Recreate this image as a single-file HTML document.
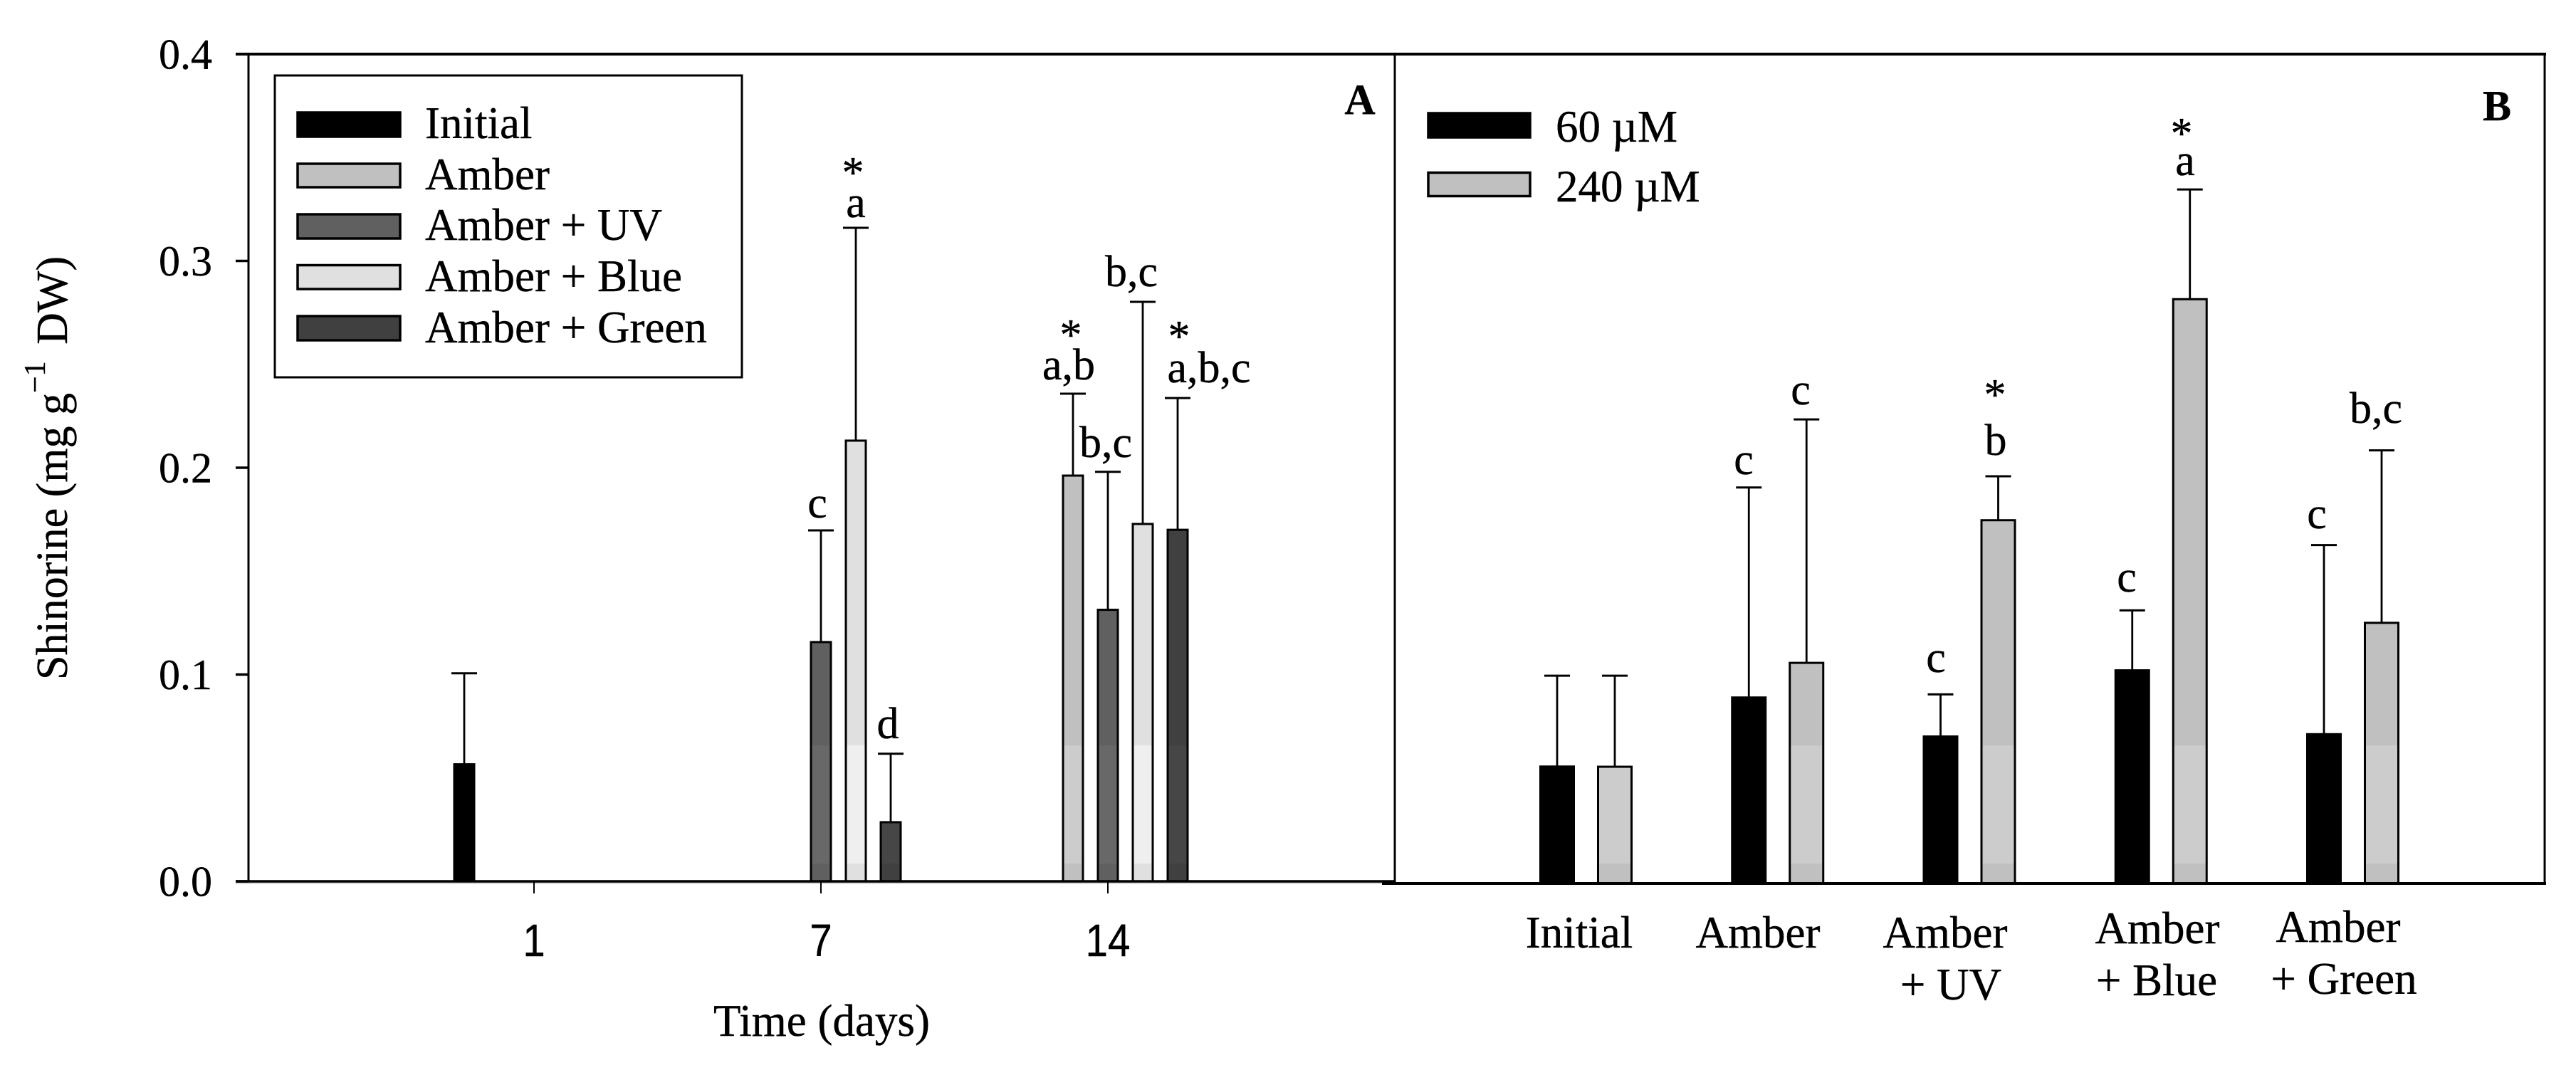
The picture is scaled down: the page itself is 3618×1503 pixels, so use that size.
<!DOCTYPE html>
<html lang="en">
<head>
<meta charset="utf-8">
<title>Shinorine content chart</title>
<style>
  html, body { margin: 0; padding: 0; background: #fff; }
  svg { display: block; }
  text { font-family: "Liberation Serif", serif; fill: #000; stroke: #000; stroke-width: 0.4px; }
  .sans { font-family: "Liberation Sans", sans-serif; }
  .f60 { font-size: 60px; }
  .f62 { font-size: 62px; }
  .f63 { font-size: 63px; }
  .mid { text-anchor: middle; }
  .bold { font-weight: bold; }
</style>
</head>
<body>
<svg id="chart" xmlns="http://www.w3.org/2000/svg" width="3618" height="1503" viewBox="0 0 3618 1503">
  <defs>
    <linearGradient id="fill-amber" gradientUnits="userSpaceOnUse" x1="0" y1="0" x2="0" y2="1503">
      <stop offset="0.6966" stop-color="#c0c0c0"/><stop offset="0.6966" stop-color="#cccccc"/>
      <stop offset="0.8070" stop-color="#cccccc"/><stop offset="0.8070" stop-color="#c0c0c0"/>
    </linearGradient>
    <linearGradient id="fill-uv" gradientUnits="userSpaceOnUse" x1="0" y1="0" x2="0" y2="1503">
      <stop offset="0.6966" stop-color="#606060"/><stop offset="0.6966" stop-color="#686868"/>
      <stop offset="0.8070" stop-color="#686868"/><stop offset="0.8070" stop-color="#606060"/>
    </linearGradient>
    <linearGradient id="fill-blue" gradientUnits="userSpaceOnUse" x1="0" y1="0" x2="0" y2="1503">
      <stop offset="0.6966" stop-color="#e0e0e0"/><stop offset="0.6966" stop-color="#efefef"/>
      <stop offset="0.8070" stop-color="#efefef"/><stop offset="0.8070" stop-color="#e0e0e0"/>
    </linearGradient>
    <linearGradient id="fill-green" gradientUnits="userSpaceOnUse" x1="0" y1="0" x2="0" y2="1503">
      <stop offset="0.6966" stop-color="#404040"/><stop offset="0.6966" stop-color="#464646"/>
      <stop offset="0.8070" stop-color="#464646"/><stop offset="0.8070" stop-color="#404040"/>
    </linearGradient>
  </defs>

  <g id="marks"></g>

  <g id="frame" stroke="#000" fill="none">
    <line x1="331" y1="1240.5" x2="1958" y2="1240.5" stroke="#cccccc" stroke-width="2"/>
    <line x1="331" y1="76" x2="3576" y2="76" stroke-width="4"/>
    <line x1="349" y1="76" x2="349" y2="1238" stroke-width="3"/>
    <line x1="1959" y1="76" x2="1959" y2="1241" stroke-width="3"/>
    <line x1="3574" y1="78" x2="3574" y2="1243" stroke-width="3"/>
    <line x1="331" y1="1238" x2="1958" y2="1238" stroke-width="3.5"/>
    <line x1="1941" y1="1241" x2="3576" y2="1241" stroke-width="4"/>
  </g>

  <g id="y-axis"></g>
  <g id="x-axis"></g>

  <text class="f62" transform="translate(94 955) rotate(-90)">Shinorine (mg g<tspan font-size="42" dy="-31">&#8722;1</tspan><tspan dy="31" dx="8"> DW)</tspan></text>
  <text class="f63" x="1002" y="1455">Time (days)</text>

  <g>
    <rect x="386" y="106" width="656" height="424" fill="#fff" stroke="#000" stroke-width="3"/>
    <rect x="418" y="158" width="144" height="34" fill="#000" stroke="#000" stroke-width="3.5"/>
    <text class="f63" x="597" y="194">Initial</text>
    <rect x="418" y="230" width="144" height="33" fill="#c0c0c0" stroke="#000" stroke-width="3.5"/>
    <text class="f63" x="597" y="266">Amber</text>
    <rect x="418" y="301" width="144" height="34" fill="#606060" stroke="#000" stroke-width="3.5"/>
    <text class="f63" x="597" y="337">Amber + UV</text>
    <rect x="418" y="372.5" width="144" height="33.5" fill="#e0e0e0" stroke="#000" stroke-width="3.5"/>
    <text class="f63" x="597" y="409">Amber + Blue</text>
    <rect x="418" y="444" width="144" height="34" fill="#404040" stroke="#000" stroke-width="3.5"/>
    <text class="f63" x="597" y="481">Amber + Green</text>
  </g>

  <g>
    <rect x="2006" y="159" width="143" height="34" fill="#000" stroke="#000" stroke-width="3.5"/>
    <text class="f63" x="2185" y="199">60 &#181;M</text>
    <rect x="2006" y="242.5" width="143" height="33" fill="#c0c0c0" stroke="#000" stroke-width="3.5"/>
    <text class="f63" x="2185" y="283">240 &#181;M</text>
  </g>

  <text class="f60 mid bold" x="1910" y="160">A</text>
  <text class="f60 mid bold" x="3507" y="169">B</text>

  <g class="f62 mid">
    <text x="1198" y="263">*</text>
    <text x="1202" y="305">a</text>
    <text x="1148" y="727">c</text>
    <text x="1247" y="1037">d</text>
    <text x="1504" y="491">*</text>
    <text x="1501" y="533">a,b</text>
    <text x="1553" y="642">b,c</text>
    <text x="1589" y="402">b,c</text>
    <text x="1656" y="493">*</text>
    <text x="1698" y="537">a,b,c</text>
  </g>

  <g class="f62 mid">
    <text x="2449" y="666">c</text>
    <text x="2529" y="568">c</text>
    <text x="2719" y="944">c</text>
    <text x="2802" y="575">*</text>
    <text x="2803" y="639">b</text>
    <text x="2987" y="831">c</text>
    <text x="3064" y="208">*</text>
    <text x="3069" y="246">a</text>
    <text x="3254" y="742">c</text>
    <text x="3337" y="594">b,c</text>
  </g>

  <g class="f63 mid">
    <text x="2218" y="1331">Initial</text>
    <text x="2469" y="1331">Amber</text>
    <text x="2732" y="1331">Amber</text>
    <text x="2740" y="1404">+ UV</text>
    <text x="3030" y="1325">Amber</text>
    <text x="3029" y="1398">+ Blue</text>
    <text x="3284" y="1323">Amber</text>
    <text x="3292" y="1396">+ Green</text>
  </g>
</svg>

<script>
// Panel A: shinorine by day and light treatment
const dayLabels = ["1", "7", "14"];
const initialMeans = [0.0566, null, null];
const amberMeans = [null, 0, 0.1962];
const uvMeans = [null, 0.1157, 0.1313];
const blueMeans = [null, 0.2131, 0.1728];
const greenMeans = [null, 0.0286, 0.1700];
const initialErrors = [0.0440, null, null];
const amberErrors = [null, 0, 0.0396];
const uvErrors = [null, 0.0540, 0.0667];
const blueErrors = [null, 0.1029, 0.1074];
const greenErrors = [null, 0.0331, 0.0637];

// Panel B: shinorine by light treatment and concentration
const means60 = [0.0564, 0.0897, 0.0709, 0.1028, 0.0720];
const means240 = [0.0563, 0.1064, 0.1752, 0.2818, 0.1257];
const errors60 = [0.0438, 0.1013, 0.0203, 0.0289, 0.0912];
const errors240 = [0.0439, 0.1174, 0.0212, 0.0529, 0.0832];

const yTickLabels = ["0.0", "0.1", "0.2", "0.3", "0.4"];

const NS = "http://www.w3.org/2000/svg";
const marks = document.getElementById("marks");
const yAxisGroup = document.getElementById("y-axis");
const xAxisGroup = document.getElementById("x-axis");

function yA(v) { return 1238 - v * 2905; }
function yB(v) { return 1241 - v * 2912.5; }
function xA(day, slot) { return 750 + 403 * day + (slot - 2) * 49; }
function xB(cat, slot) { return 2187 + 269.25 * cat + 81 * slot; }

function make(tag, attrs, parent) {
  const node = document.createElementNS(NS, tag);
  for (const k in attrs) node.setAttribute(k, attrs[k]);
  parent.appendChild(node);
  return node;
}

function drawBar(x, y, base, w, fill, name) {
  const bar = make("rect", { x: x - w / 2, y: y, width: w, height: base - y, fill: fill, stroke: "#000", "stroke-width": 3 }, marks);
  
  
}

function drawError(x, yFrom, yTo, name) {
  const stem = make("line", { x1: x, y1: yFrom, x2: x, y2: yTo, stroke: "#000", "stroke-width": 2.8 }, marks);
  
  
  const cap = make("line", { x1: x - 18, y1: yTo, x2: x + 18, y2: yTo, stroke: "#000", "stroke-width": 3 }, marks);
  
  
}

const seriesA = [
  { key: "initial", means: initialMeans, errors: initialErrors, fill: "#000" },
  { key: "amber", means: amberMeans, errors: amberErrors, fill: "url(#fill-amber)" },
  { key: "amber-uv", means: uvMeans, errors: uvErrors, fill: "url(#fill-uv)" },
  { key: "amber-blue", means: blueMeans, errors: blueErrors, fill: "url(#fill-blue)" },
  { key: "amber-green", means: greenMeans, errors: greenErrors, fill: "url(#fill-green)" }
];

seriesA.forEach(function (s, slot) {
  s.means.forEach(function (m, day) {
    if (m === null) return;
    const x = xA(day, slot);
    const label = s.key + '-day' + dayLabels[day];
    if (s.errors[day] > 0) drawError(x, yA(m), yA(m + s.errors[day]), 'error-' + label);
    drawBar(x, yA(m), yA(0), 28, s.fill, 'bar-' + label);
  });
});

const seriesB = [
  { key: "60um", means: means60, errors: errors60, fill: "#000" },
  { key: "240um", means: means240, errors: errors240, fill: "url(#fill-amber)" }
];

seriesB.forEach(function (s, slot) {
  s.means.forEach(function (m, cat) {
    const x = xB(cat, slot);
    const label = s.key + '-group' + (cat + 1);
    drawError(x, yB(m), yB(m + s.errors[cat]), 'error-' + label);
    drawBar(x, yB(m), yB(0), 47, s.fill, 'bar-' + label);
  });
});

yTickLabels.forEach(function (t) {
  const y = yA(parseFloat(t));
  const tick = make("line", { x1: 331, y1: y, x2: 349, y2: y, stroke: "#000", "stroke-width": 3.5 }, yAxisGroup);
  
  
  const lab = make("text", { x: 298, y: y + 20.5, "text-anchor": "end", class: "f60" }, yAxisGroup);
  
  
  lab.textContent = t;
});

dayLabels.forEach(function (t, i) {
  const x = xA(i, 2);
  const tick = make("line", { x1: x, y1: 1238, x2: x, y2: 1255, stroke: "#000", "stroke-width": 2 }, xAxisGroup);
  
  
  const lab = make("text", { transform: "translate(" + x + " 1343) scale(0.88 1)", "text-anchor": "middle", "font-size": 64, class: "sans" }, xAxisGroup);
  
  
  lab.textContent = t;
});
</script>
</body>
</html>
